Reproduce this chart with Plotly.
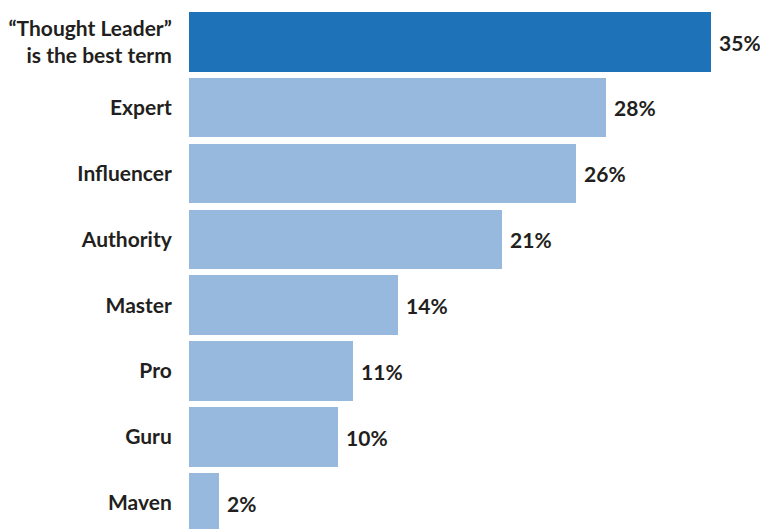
import plotly.graph_objects as go

# Survey: preferred term for a recognised expert (share of respondents, %)
terms = [
    "\u201cThought Leader\u201d<br>is the best term",
    "Expert",
    "Influencer",
    "Authority",
    "Master",
    "Pro",
    "Guru",
    "Maven",
]
shares = [35, 28, 26, 21, 14, 11, 10, 2]

DARK_BLUE = "#1e73b8"
LIGHT_BLUE = "#96b9dd"
TEXT = "#231f20"

bar_colors = [DARK_BLUE] + [LIGHT_BLUE] * (len(terms) - 1)
positions = list(range(len(terms)))

fig = go.Figure(
    go.Bar(
        x=shares,
        y=positions,
        orientation="h",
        width=0.905,
        marker=dict(color=bar_colors, line=dict(width=0)),
        text=[f" {v}%" for v in shares],
        textposition="outside",
        textfont=dict(family="Lato", size=21, color=TEXT, weight="bold"),
        cliponaxis=False,
        hoverinfo="skip",
    )
)

fig.update_layout(
    width=760,
    height=529,
    margin=dict(l=189, r=0, t=0, b=0),
    paper_bgcolor="white",
    plot_bgcolor="white",
    showlegend=False,
    bargap=0,
)

fig.update_xaxes(
    range=[0, 571 / 14.9],
    visible=False,
    showgrid=False,
    zeroline=False,
)

fig.update_yaxes(
    range=[7.398, -0.635],
    tickmode="array",
    tickvals=positions,
    ticktext=terms,
    tickfont=dict(family="Lato", size=21, color=TEXT, weight="bold"),
    ticks="outside",
    ticklen=12,
    tickcolor="rgba(0,0,0,0)",
    showgrid=False,
    zeroline=False,
    showline=False,
)

fig.write_html("out.html")
